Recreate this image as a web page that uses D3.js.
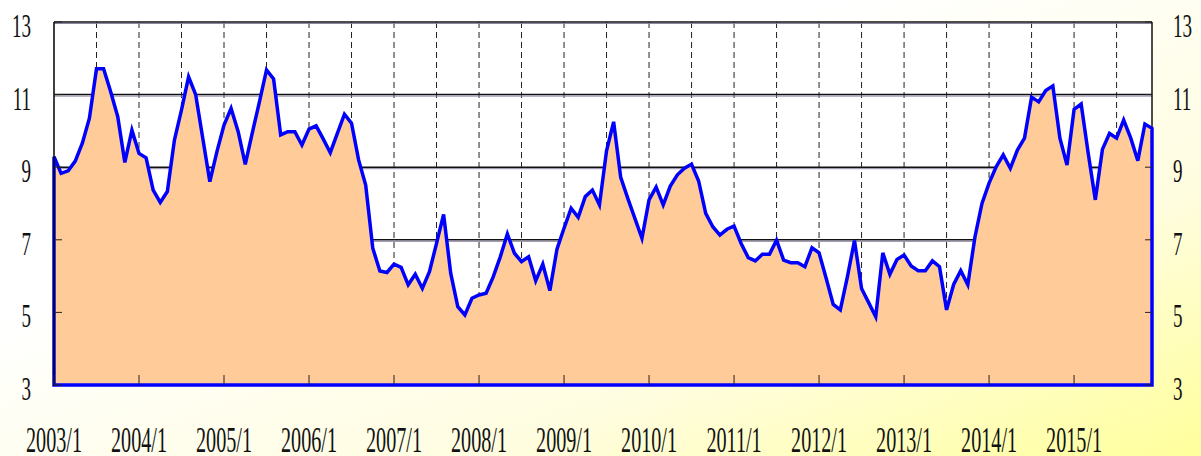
<!DOCTYPE html>
<html>
<head>
<meta charset="utf-8">
<script src="https://d3js.org/d3.v7.min.js"></script>
<style>
  body { margin: 0; }
  svg text { font-family: "Liberation Serif", "Times New Roman", serif; fill: #111; }
</style>
</head>
<body>
<svg id="chart"></svg>
<script>

// monthly values, 2003/1 .. 2015/12
var values = [
  9.29, 8.83, 8.90, 9.17, 9.66, 10.35, 11.71, 11.71, 11.08, 10.39, 9.13, 10.02,
  9.38, 9.26, 8.37, 8.03, 8.33, 9.75, 10.58, 11.49, 11.00, 9.80, 8.60, 9.43,
  10.16, 10.62, 9.98, 9.08, 9.95, 10.80, 11.68, 11.43, 9.89, 9.98, 9.98, 9.61,
  10.05, 10.14, 9.78, 9.40, 9.93, 10.46, 10.21, 9.20, 8.51, 6.77, 6.14, 6.10,
  6.33, 6.24, 5.76, 6.05, 5.66, 6.12, 6.90, 7.70, 6.08, 5.16, 4.93, 5.39,
  5.48, 5.53, 5.98, 6.53, 7.16, 6.63, 6.40, 6.53, 5.87, 6.33, 5.60, 6.74,
  7.32, 7.87, 7.62, 8.19, 8.37, 7.96, 9.45, 10.25, 8.72, 8.14, 7.59, 7.04,
  8.10, 8.45, 7.96, 8.48, 8.79, 8.97, 9.08, 8.62, 7.73, 7.36, 7.13, 7.29,
  7.38, 6.90, 6.51, 6.42, 6.60, 6.60, 6.99, 6.44, 6.37, 6.37, 6.26, 6.78,
  6.64, 5.94, 5.22, 5.07, 5.98, 6.98, 5.66, 5.27, 4.88, 6.64, 6.05, 6.46,
  6.58, 6.28, 6.15, 6.15, 6.42, 6.26, 5.07, 5.77, 6.15, 5.76, 7.07, 8.00,
  8.56, 9.01, 9.34, 8.97, 9.47, 9.80, 10.93, 10.80, 11.11, 11.24, 9.80, 9.06,
  10.59, 10.74, 9.38, 8.10, 9.49, 9.93, 9.80, 10.30, 9.80, 9.18, 10.19, 10.07
];

var years = [2003, 2004, 2005, 2006, 2007, 2008, 2009, 2010, 2011, 2012, 2013, 2014, 2015];
var yearLabels = years.map(function(y) { return y + "/1"; });
var yTicks = [3, 5, 7, 9, 11, 13];
var gridValues = [7, 9, 11];

var W = 1201, H = 456;
var pLeft = 54, pRight = 1152, pTop = 22, pBottom = 385;

var svg = d3.select("#chart").attr("width", W).attr("height", H);

var x = d3.scaleLinear().domain([0, values.length - 1]).range([pLeft, pRight]);
var y = d3.scaleLinear().domain([3, 13]).range([pBottom, pTop]);

// background gradient
var defs = svg.append("defs");
var grad = defs.append("linearGradient").attr("id", "bg")
  .attr("x1", "0").attr("y1", "0").attr("x2", "1").attr("y2", "1");
grad.append("stop").attr("offset", "0.35").attr("stop-color", "#ffffff");
grad.append("stop").attr("offset", "0.7").attr("stop-color", "#fffde0");
grad.append("stop").attr("offset", "1").attr("stop-color", "#ffff9c");

svg.append("rect").attr("width", W).attr("height", H).attr("fill", "url(#bg)");

// plot area
svg.append("rect")
  .attr("x", pLeft).attr("y", pTop)
  .attr("width", pRight - pLeft).attr("height", pBottom - pTop)
  .attr("fill", "#fff");

// dashed half-year grid
var halfYears = d3.range(6, values.length, 6);
svg.append("g").selectAll("line")
  .data(halfYears)
  .enter().append("line")
  .attr("x1", function(d) { return x(d); })
  .attr("x2", function(d) { return x(d); })
  .attr("y1", pTop).attr("y2", pBottom)
  .attr("stroke", "#222")
  .attr("stroke-width", 1)
  .attr("stroke-dasharray", "6,4");

// solid horizontal grid + top border
var hLines = gridValues.concat([13]);
var hg = svg.append("g");
hg.selectAll("line.dark")
  .data(hLines)
  .enter().append("line").attr("class", "dark")
  .attr("x1", pLeft).attr("x2", pRight)
  .attr("y1", function(d) { return y(d); })
  .attr("y2", function(d) { return y(d); })
  .attr("stroke", "#111").attr("stroke-width", 1.5);
hg.selectAll("line.shade")
  .data(hLines)
  .enter().append("line").attr("class", "shade")
  .attr("x1", pLeft).attr("x2", pRight)
  .attr("y1", function(d) { return y(d) + 1.5; })
  .attr("y2", function(d) { return y(d) + 1.5; })
  .attr("stroke", "#8e84a0").attr("stroke-width", 1);

// right border (under the area)
svg.append("line")
  .attr("x1", pRight).attr("x2", pRight).attr("y1", pTop).attr("y2", pBottom)
  .attr("stroke", "#111").attr("stroke-width", 1.5);

// area + line
var area = d3.area()
  .x(function(d, i) { return x(i); })
  .y0(y(3))
  .y1(function(d) { return y(d); });

svg.append("path")
  .datum(values)
  .attr("d", area)
  .attr("fill", "#ffcc99")
  .attr("stroke", "#0000ff")
  .attr("stroke-width", 3.5)
  .attr("stroke-linejoin", "miter");

// left axis line
svg.append("line")
  .attr("x1", pLeft).attr("x2", pLeft).attr("y1", pTop).attr("y2", pBottom + 1)
  .attr("stroke", "#000").attr("stroke-width", 1.5);

// y ticks (inward)
svg.append("g").selectAll("line")
  .data(yTicks)
  .enter().append("line")
  .attr("x1", pLeft).attr("x2", pLeft + 8)
  .attr("y1", function(d) { return y(d); })
  .attr("y2", function(d) { return y(d); })
  .attr("stroke", "#222").attr("stroke-width", 1);
svg.append("g").selectAll("line")
  .data(yTicks)
  .enter().append("line")
  .attr("x1", pRight - 7).attr("x2", pRight)
  .attr("y1", function(d) { return y(d); })
  .attr("y2", function(d) { return y(d); })
  .attr("stroke", "#222").attr("stroke-width", 1);

// x ticks at each January (inward)
svg.append("g").selectAll("line")
  .data(years)
  .enter().append("line")
  .attr("x1", function(d, i) { return x(i * 12); })
  .attr("x2", function(d, i) { return x(i * 12); })
  .attr("y1", pBottom - 10).attr("y2", pBottom)
  .attr("stroke", "#222").attr("stroke-width", 1);

// y labels, narrow serif like the original
var sx = 0.56;
svg.append("g").selectAll("text")
  .data(yTicks)
  .enter().append("text")
  .attr("text-anchor", "end")
  .attr("font-size", 34)
  .attr("transform", function(d) { return "translate(31," + (y(d) + 15) + ") scale(" + sx + ",1)"; })
  .text(function(d) { return d; });

svg.append("g").selectAll("text")
  .data(yTicks)
  .enter().append("text")
  .attr("text-anchor", "start")
  .attr("font-size", 34)
  .attr("transform", function(d) { return "translate(1173," + (y(d) + 15) + ") scale(" + sx + ",1)"; })
  .text(function(d) { return d; });

// x labels
svg.append("g").selectAll("text")
  .data(yearLabels)
  .enter().append("text")
  .attr("text-anchor", "middle")
  .attr("font-size", 36)
  .attr("transform", function(d, i) { return "translate(" + x(i * 12) + ",452) scale(" + sx + ",1)"; })
  .text(function(d) { return d; });

</script>
</body>
</html>
